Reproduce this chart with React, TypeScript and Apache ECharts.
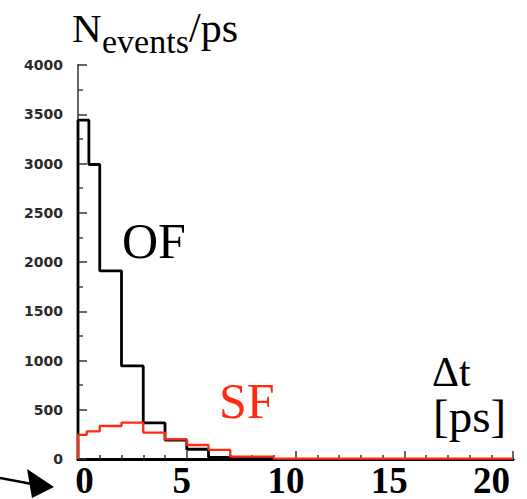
import React, { useEffect, useRef } from "react";
import * as echarts from "echarts";

// ---- data ----
const OF_EDGES = [0, 0.5, 1, 2, 3, 4, 5, 6, 7, 9];
const OF_VALUES = [3440, 2990, 1910, 945, 366, 193, 99, 17, 5];
const SF_EDGES = [0, 0.4, 1, 2, 3, 4, 5, 6, 7, 9, 20];
const SF_VALUES = [245, 280, 335, 370, 268, 200, 142, 92, 24, 3];
const X_TICKS = [0, 5, 10, 15, 20];
const X_TICK_LABELS = ["0", "5", "10", "15", "20"];
const Y_MAX = 4000;
const Y_STEP = 500;

// label nudges (px) so the big overlay digits sit where the reference has them
const X_LABEL_SHIFT = [6.5, -5, -9.5, -15, -21.5];

function histPoints(edges: number[], values: number[]) {
  const pts: number[][] = [[edges[0], 0]];
  for (let i = 0; i < values.length; i++) pts.push([edges[i], values[i]]);
  pts.push([edges[edges.length - 1], values[values.length - 1]]);
  pts.push([edges[edges.length - 1], 0]);
  return pts;
}

const SERIF = "'Liberation Serif', 'Times New Roman', serif";

export default function App() {
  const ref = useRef<HTMLDivElement>(null);
  useEffect(() => {
    if (!ref.current) return;
    const chart = echarts.init(ref.current, null, { renderer: "svg" });
    const rich: any = {};
    X_TICKS.forEach((t, i) => {
      const s = X_LABEL_SHIFT[i];
      rich["t" + i] = {
        fontFamily: SERIF,
        fontWeight: "bold",
        fontSize: 37,
        lineHeight: 28,
        color: "#000",
        padding: s >= 0 ? [0, 0, 0, 2 * s] : [0, -2 * s, 0, 0],
      };
    });
    const baseline = (b: number, s: number) => b - 0.3375 * s;
    chart.setOption({
      animation: false,
      backgroundColor: "#fff",
      grid: { left: 78, right: 14, top: 65, bottom: 40, outerBoundsMode: "none", containLabel: false },
      xAxis: [
        {
          type: "value",
          min: 0,
          max: 20,
          interval: 5,
          position: "bottom",
          axisLine: { show: true, lineStyle: { color: "#111", width: 2.5 } },
          axisTick: { show: true, inside: true, length: 8, lineStyle: { color: "#333", width: 1.5 } },
          minorTick: { show: true, splitNumber: 5, length: 4, lineStyle: { color: "#333", width: 1.5 } },
          splitLine: { show: false },
          axisLabel: {
            show: true,
            margin: 7,
            hideOverlap: false,
            formatter: (v: number) => {
              const i = X_TICKS.indexOf(v);
              return i >= 0 ? `{t${i}|${X_TICK_LABELS[i]}}` : "";
            },
            rich,
          },
        },
        {
          type: "value",
          min: 0,
          max: 20,
          position: "top",
          axisLine: { show: true, lineStyle: { color: "#000", width: 3 } },
          axisTick: { show: false },
          axisLabel: { show: false },
          splitLine: { show: false },
        },
      ],
      yAxis: [
        {
          type: "value",
          min: 0,
          max: Y_MAX,
          interval: Y_STEP,
          axisLine: { show: true, lineStyle: { color: "#555", width: 2 } },
          axisTick: { show: true, inside: true, length: 9, lineStyle: { color: "#333", width: 1.5 } },
          minorTick: { show: true, splitNumber: 2, length: 5, lineStyle: { color: "#444", width: 1.5 } },
          splitLine: { show: false },
          axisLabel: {
            margin: 15,
            formatter: (v: number) => String(v),
            fontFamily: "'DejaVu Sans', sans-serif",
            fontWeight: "bold",
            fontSize: 14,
            color: "#2a2a2a",
          },
        },
        {
          type: "value",
          min: 0,
          max: Y_MAX,
          position: "right",
          axisLine: { show: true, lineStyle: { color: "#666", width: 2 } },
          axisTick: { show: false },
          axisLabel: { show: false },
          splitLine: { show: false },
        },
      ],
      series: [
        {
          name: "OF",
          type: "line",
          step: "end",
          symbol: "none",
          data: histPoints(OF_EDGES, OF_VALUES),
          lineStyle: { color: "#000", width: 2.8 },
          z: 3,
        },
        {
          name: "SF",
          type: "line",
          step: "end",
          symbol: "none",
          data: histPoints(SF_EDGES, SF_VALUES),
          lineStyle: { color: "#ff2a10", width: 2.3 },
          z: 4,
        },
      ],
      graphic: [
        { type: "text", x: 72, y: baseline(42, 41), style: { text: "N", font: `41px ${SERIF}`, fill: "#000", verticalAlign: "middle" } },
        { type: "text", x: 102, y: baseline(53, 34), style: { text: "events", font: `34px ${SERIF}`, fill: "#000", verticalAlign: "middle" } },
        { type: "text", x: 189, y: baseline(42, 42), style: { text: "/ps", font: `42px ${SERIF}`, fill: "#000", verticalAlign: "middle" } },
        { type: "text", x: 122, y: baseline(258, 50), style: { text: "OF", font: `50px ${SERIF}`, fill: "#000", verticalAlign: "middle" } },
        { type: "text", x: 219, y: baseline(418, 50), style: { text: "SF", font: `50px ${SERIF}`, fill: "#ff2a10", verticalAlign: "middle" } },
        { type: "text", x: 432, y: baseline(386, 42), style: { text: "Δt", font: `42px ${SERIF}`, lineHeight: 38, fill: "#000", verticalAlign: "middle" } },
        { type: "text", x: 433, y: baseline(432, 47), style: { text: "[ps]", font: `47px ${SERIF}`, lineHeight: 40, fill: "#000", verticalAlign: "middle" } },
        { type: "line", shape: { x1: 0, y1: 478, x2: 32, y2: 484 }, style: { stroke: "#000", lineWidth: 2.5 } },
        { type: "polygon", shape: { points: [[27, 469], [32, 498], [54, 487]] }, style: { fill: "#000" } },
      ],
    });
    return () => chart.dispose();
  }, []);
  return (
    <div
      ref={ref}
      style={{ position: "absolute", left: 0, top: 0, width: 527, height: 499 }}
    />
  );
}
